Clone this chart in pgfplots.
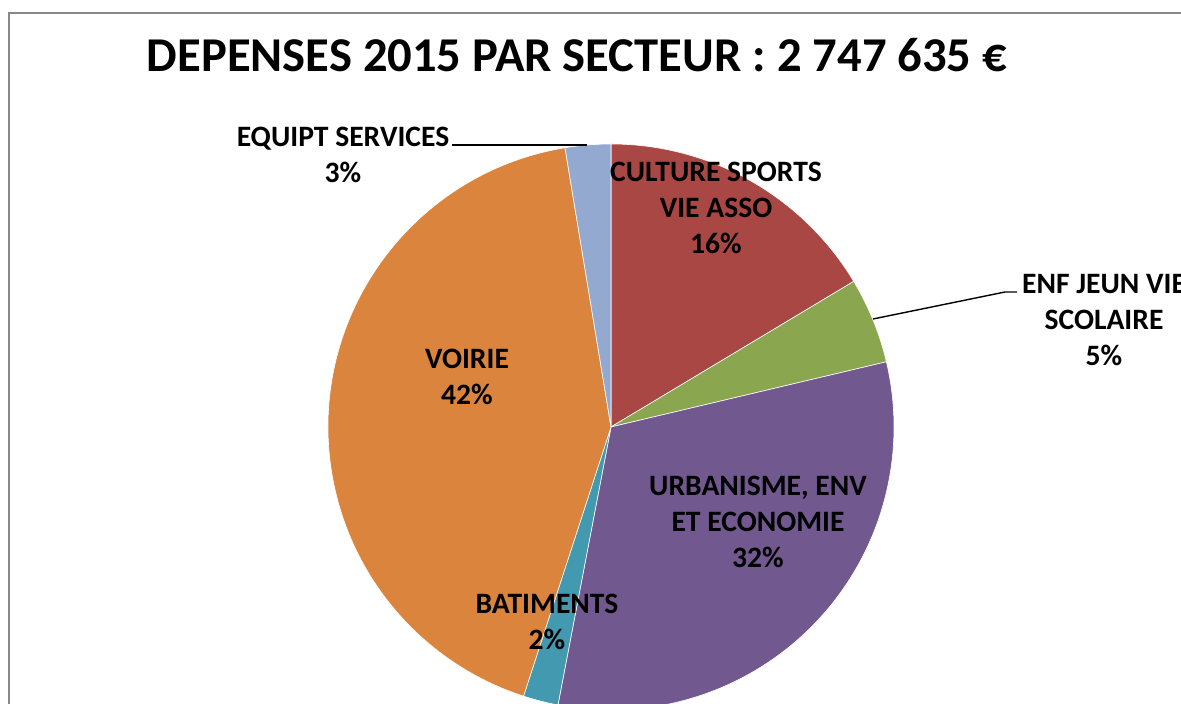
\documentclass[border=0pt]{standalone}
\usepackage{pgfplots}
\pgfplotsset{compat=1.18}
\usepackage{fontspec}
\setmainfont{Carlito}
\definecolor{cCult}{HTML}{A94744}
\definecolor{cEnf}{HTML}{8AA64F}
\definecolor{cUrb}{HTML}{71588F}
\definecolor{cBat}{HTML}{4299B0}
\definecolor{cVoi}{HTML}{DB843D}
\definecolor{cEqu}{HTML}{93A9D0}
\definecolor{frame}{HTML}{888888}
% slice values (percent), clockwise from 12 o'clock
\def\vA{16.4}% CULTURE SPORTS VIE ASSO
\def\vB{4.9}%  ENF JEUN VIE SCOLAIRE
\def\vC{31.7}% URBANISME, ENV ET ECONOMIE
\def\vD{2.0}%  BATIMENTS
\def\vE{42.4}% VOIRIE
\def\vF{2.6}%  EQUIPT SERVICES
\newcommand\labfont{\bfseries\fontsize{14.8pt}{18pt}\selectfont}
\begin{document}
\begin{tikzpicture}
\clip (0,0) rectangle (590.5pt,352pt);
\pgfmathsetmacro\aA{90}
\pgfmathsetmacro\aB{\aA-3.6*\vA}
\pgfmathsetmacro\aC{\aB-3.6*\vB}
\pgfmathsetmacro\aD{\aC-3.6*\vC}
\pgfmathsetmacro\aE{\aD-3.6*\vD}
\pgfmathsetmacro\aF{\aE-3.6*\vE}
\pgfmathsetmacro\aG{\aF-3.6*\vF}
\begin{axis}[at={(0,0)}, anchor=south west, scale only axis,
  width=590.5pt, height=352pt, xmin=0, xmax=1181, ymin=0, ymax=704,
  hide axis, clip=false]
\draw[frame, line width=0.7pt] (axis cs:9,-5) -- (axis cs:9,691) -- (axis cs:1190,691);
\newcommand\slice[3]{%
  \fill[#1, draw=white, line width=0.3pt] (axis cs:611,277) -- ([shift={(#2:141.5pt)}]axis cs:611,277)
    arc[start angle=#2, end angle=#3, radius=141.5pt] -- cycle;}
\slice{cCult}{\aB}{\aA}
\slice{cEnf}{\aC}{\aB}
\slice{cUrb}{\aD}{\aC}
\slice{cBat}{\aE}{\aD}
\slice{cVoi}{\aF}{\aE}
\slice{cEqu}{\aG}{\aF}
% leader lines
\draw[black, line width=0.7pt] (axis cs:452,559) -- (axis cs:587,559);
\draw[black, line width=0.7pt] (axis cs:873,385) -- (axis cs:1005,412) -- (axis cs:1017,412);
% title
\node[font=\bfseries\fontsize{24.3pt}{28pt}\selectfont] at (axis cs:577,649) {DEPENSES 2015 PAR SECTEUR : 2 747 635 €};
% labels
\node[align=center, font=\labfont] at (axis cs:716,496) {CULTURE SPORTS\\VIE ASSO\\16\%};
\node[align=center, font=\labfont] at (axis cs:1104,384) {ENF JEUN VIE\\SCOLAIRE\\5\%};
\node[align=center, font=\labfont] at (axis cs:758,182) {URBANISME, ENV\\ET ECONOMIE\\32\%};
\node[align=center, font=\labfont] at (axis cs:547,82) {BATIMENTS\\2\%};
\node[align=center, font=\labfont] at (axis cs:467,327) {VOIRIE\\42\%};
\node[align=center, font=\labfont] at (axis cs:343,549) {EQUIPT SERVICES\\3\%};
\end{axis}
\end{tikzpicture}
\end{document}
